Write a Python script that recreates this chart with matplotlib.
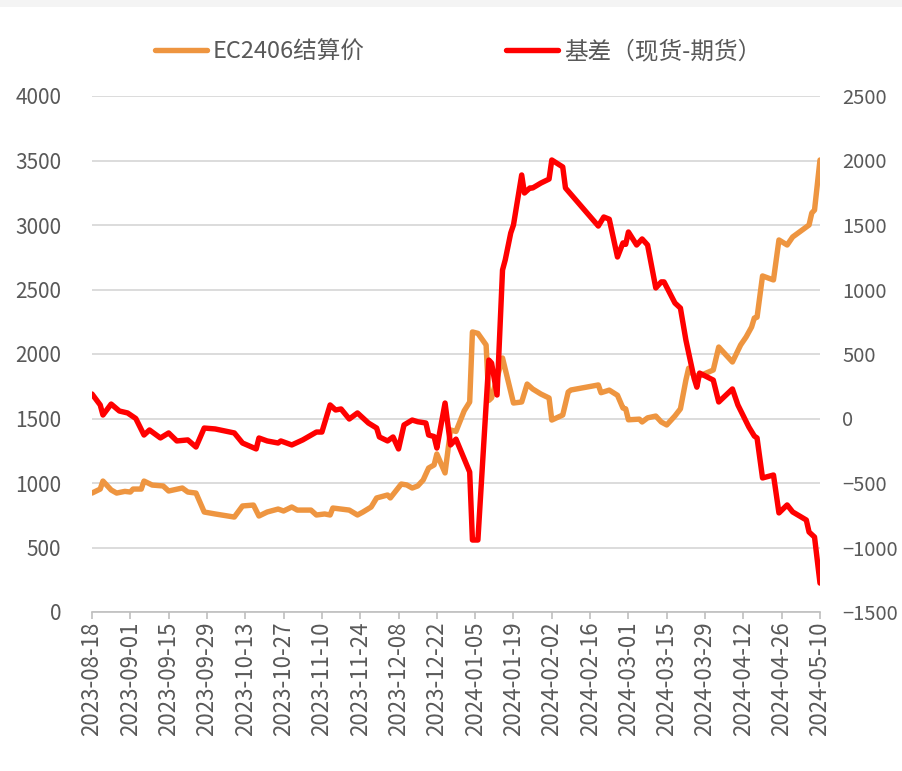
import matplotlib
matplotlib.use("Agg")
import matplotlib.pyplot as plt
import pandas as pd
from matplotlib.patches import Rectangle

plt.rcParams['font.family'] = ['Noto Sans CJK SC', 'DejaVu Sans']

price_dates = ["2023-08-18","2023-08-21","2023-08-22","2023-08-25","2023-08-27","2023-08-30","2023-09-01","2023-09-02",
"2023-09-05","2023-09-06","2023-09-09","2023-09-13","2023-09-15","2023-09-20","2023-09-22","2023-09-25","2023-09-28",
"2023-10-02","2023-10-09","2023-10-12","2023-10-16","2023-10-18","2023-10-21","2023-10-25","2023-10-27","2023-10-30",
"2023-11-01","2023-11-06","2023-11-08","2023-11-11","2023-11-13","2023-11-14","2023-11-17","2023-11-20","2023-11-23",
"2023-11-25","2023-11-28","2023-11-30","2023-12-04","2023-12-05","2023-12-09","2023-12-11","2023-12-13","2023-12-15",
"2023-12-17","2023-12-19","2023-12-21","2023-12-22","2023-12-25","2023-12-27","2023-12-29","2024-01-01","2024-01-03",
"2024-01-04","2024-01-06","2024-01-09","2024-01-10","2024-01-11","2024-01-15","2024-01-19","2024-01-22","2024-01-24",
"2024-01-26","2024-01-29","2024-02-01","2024-02-02","2024-02-06","2024-02-08","2024-02-09","2024-02-19","2024-02-20",
"2024-02-23","2024-02-26","2024-02-28","2024-02-29","2024-03-01","2024-03-05","2024-03-06","2024-03-08","2024-03-11",
"2024-03-13","2024-03-15","2024-03-18","2024-03-20","2024-03-22","2024-03-23","2024-03-25","2024-03-27","2024-04-01",
"2024-04-03","2024-04-08","2024-04-11","2024-04-13","2024-04-15","2024-04-16","2024-04-17","2024-04-19","2024-04-23",
"2024-04-25","2024-04-28","2024-04-30","2024-05-06","2024-05-07","2024-05-08","2024-05-10"]
price_values = [922,953,1015,946,922,935,930,953,
953,1015,984,977,938,961,930,922,775,
760,736,822,829,744,775,798,783,814,
790,790,752,760,752,806,798,790,752,
775,814,884,907,884,992,985,961,977,
1023,1116,1140,1225,1078,1411,1400,1560,1628,
2171,2160,2070,1640,1660,1969,1620,1628,1767,
1729,1690,1659,1488,1527,1705,1721,1760,1700,
1720,1680,1581,1575,1490,1495,1473,1505,1519,
1473,1450,1520,1575,1798,1890,1830,1830,1876,
2054,1938,2070,2132,2209,2279,2285,2605,2574,
2884,2845,2907,3000,3093,3116,3504]

basis_dates = ["2023-08-18","2023-08-21","2023-08-22","2023-08-25","2023-08-28","2023-08-31","2023-09-03","2023-09-06",
"2023-09-08","2023-09-12","2023-09-15","2023-09-18","2023-09-22","2023-09-25","2023-09-28","2023-10-02","2023-10-09",
"2023-10-12","2023-10-17","2023-10-18","2023-10-21","2023-10-25","2023-10-26","2023-10-30","2023-11-03","2023-11-08",
"2023-11-10","2023-11-13","2023-11-15","2023-11-17","2023-11-20","2023-11-23","2023-11-27","2023-11-30","2023-12-01",
"2023-12-04","2023-12-06","2023-12-08","2023-12-10","2023-12-13","2023-12-15","2023-12-18","2023-12-19","2023-12-21",
"2023-12-22","2023-12-25","2023-12-27","2023-12-29","2024-01-03","2024-01-04","2024-01-06","2024-01-10","2024-01-11",
"2024-01-13","2024-01-15","2024-01-16","2024-01-18","2024-01-19","2024-01-22","2024-01-23","2024-01-25","2024-01-26",
"2024-01-29","2024-02-01","2024-02-02","2024-02-06","2024-02-07","2024-02-19","2024-02-21","2024-02-23","2024-02-26",
"2024-02-28","2024-02-29","2024-03-01","2024-03-04","2024-03-06","2024-03-08","2024-03-11","2024-03-13","2024-03-14",
"2024-03-18","2024-03-20","2024-03-22","2024-03-25","2024-03-26","2024-03-27","2024-04-01","2024-04-03","2024-04-08",
"2024-04-10","2024-04-14","2024-04-16","2024-04-17","2024-04-19","2024-04-23","2024-04-25","2024-04-28","2024-04-30",
"2024-05-05","2024-05-06","2024-05-08","2024-05-10"]
basis_values = [190,105,27,112,58,43,0,-128,
-89,-151,-112,-174,-166,-221,-74,-81,-112,
-190,-236,-151,-174,-190,-174,-205,-166,-105,
-105,105,66,74,-4,43,-35,-74,-143,
-174,-143,-236,-50,-12,-25,-35,-128,-140,
-229,120,-205,-160,-415,-942,-942,453,430,
182,1151,1230,1438,1500,1888,1748,1787,1787,
1825,1856,2004,1950,1787,1492,1562,1545,1252,
1361,1350,1446,1345,1392,1345,1012,1059,1059,
895,856,608,312,243,352,298,128,229,
105,-66,-136,-151,-461,-438,-732,-670,-724,
-787,-880,-919,-1276]

price_label = "EC2406结算价"
basis_label = "基差（现货-期货）"
orange = "#EE9540"
red = "#FF0000"
txt = "#595959"

fig = plt.figure(figsize=(9.02, 7.71), dpi=100)
fig.patches.append(Rectangle((0, 1 - 7/771), 1, 7/771, transform=fig.transFigure,
                             facecolor="#f4f4f4", edgecolor="none"))
ax = fig.add_axes([92/902, 1 - 612/771, 728/902, 516/771])
ax2 = ax.twinx()

pd_dates = pd.to_datetime(price_dates)
bd_dates = pd.to_datetime(basis_dates)

l1, = ax.plot(pd_dates, price_values, color=orange, lw=3.9, solid_joinstyle='round', solid_capstyle='round', label=price_label, zorder=3)
l2, = ax2.plot(bd_dates, basis_values, color=red, lw=3.9, solid_joinstyle='round', solid_capstyle='round', label=basis_label, zorder=3)

ax.set_ylim(0, 4000)
ax.set_yticks(range(0, 4001, 500))
ax2.set_ylim(-1500, 2500)
ax2.set_yticks(range(-1500, 2501, 500))

start = pd.Timestamp("2023-08-18")
end = pd.Timestamp("2024-05-10")
ax.set_xlim(start, end)
ticks = pd.date_range(start, end, freq="14D")
ax.set_xticks(ticks)
ax.set_xticklabels([t.strftime("%Y-%m-%d") for t in ticks], rotation=90)

ax.grid(axis='y', color="#d9d9d9", lw=1.3)
ax.set_axisbelow(True)
for a in (ax, ax2):
    for s in ("top", "left", "right", "bottom"):
        a.spines[s].set_visible(False)
ax.spines["bottom"].set_visible(True)
ax.spines["bottom"].set_color("#bfbfbf")
ax.spines["bottom"].set_linewidth(1.2)

ax.tick_params(axis='x', colors="#bfbfbf", length=5, width=1.2, labelcolor=txt, labelsize=16, pad=2)
ax.tick_params(axis='y', length=0, labelcolor=txt, labelsize=15, pad=22)
ax2.tick_params(axis='y', length=0, labelcolor=txt, labelsize=14.5, pad=16)

fig.legend(handles=[l1, l2], loc='center', bbox_to_anchor=(458/902, 1 - 52/771), ncol=2,
           frameon=False, fontsize=17, handlelength=2.2, handletextpad=0.25, columnspacing=6.0,
           labelcolor=txt)

fig.savefig("out.png", dpi=100)
